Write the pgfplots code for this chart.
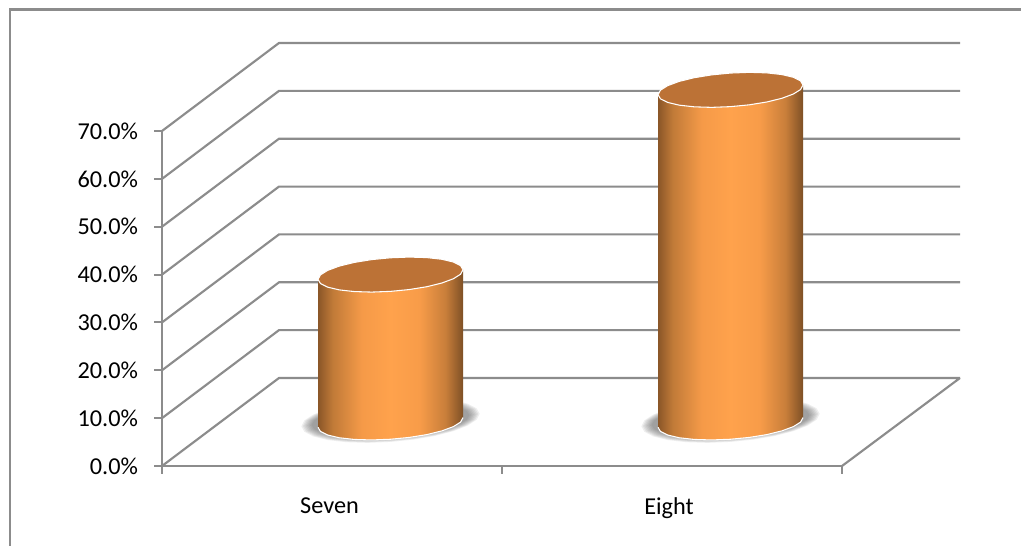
\documentclass[border=0pt]{standalone}
\usepackage{pgfplots}
\pgfplotsset{compat=1.18}
\usepackage{pgfplotstable}
\usepackage{fontspec}
\setmainfont{Carlito}

\definecolor{gridgray}{HTML}{8C8C8C}
\definecolor{cyltopcol}{HTML}{BC7236}
\definecolor{shadowcol}{HTML}{505050}
\definecolor{cyla}{HTML}{8A5628}
\definecolor{cylb}{HTML}{C07A38}
\definecolor{cylc}{HTML}{F59A48}
\definecolor{cyld}{HTML}{FFA24C}
\definecolor{cyle}{HTML}{F89C49}
\definecolor{cylf}{HTML}{C87E3A}
\definecolor{cylg}{HTML}{7E5026}

% the middle 50bp of a 100bp shading is what fills the path
\pgfdeclarehorizontalshading{cylshade}{100bp}{
  color(0bp)=(cyla);
  color(25bp)=(cyla);
  color(30bp)=(cylb);
  color(40bp)=(cylc);
  color(50bp)=(cyld);
  color(60bp)=(cyle);
  color(69bp)=(cylf);
  color(75bp)=(cylg);
  color(100bp)=(cylg)}

% x is in 1021-picture pixels from the y axis (1px = 0.75pt), y in percent
% offsets of the cylinder ellipse round its centre
\pgfplotstableread{
dx dy
72.5 1.01
70.03 0.06
62.79 -0.88
51.27 -1.77
36.25 -2.54
18.76 -3.13
0 -3.51
-18.76 -3.66
-36.25 -3.55
-51.27 -3.20
-62.79 -2.63
-70.03 -1.88
-72.5 -1.01
-70.03 -0.06
-62.79 0.88
-51.27 1.77
-36.25 2.54
-18.76 3.13
0 3.51
18.76 3.66
36.25 3.55
51.27 3.20
62.79 2.63
70.03 1.88
}\ellipsetab

% cylinder side: h=1 at top of the bar, h=0 on the floor
\pgfplotstableread{
dx dy h
-72.5 -1.01 1
-72.5 -1.01 0
-70.03 -1.88 0
-62.79 -2.63 0
-51.27 -3.20 0
-36.25 -3.55 0
-18.76 -3.66 0
0 -3.51 0
18.76 -3.13 0
36.25 -2.54 0
51.27 -1.77 0
62.79 -0.88 0
70.03 0.06 0
72.5 1.01 0
72.5 1.01 1
}\sidetab

% gridlines: side wall then back wall
\pgfplotstableread{
x y
0 0
117 18.39
798 18.39
nan nan
0 10
117 28.39
798 28.39
nan nan
0 20
117 38.39
798 38.39
nan nan
0 30
117 48.39
798 48.39
nan nan
0 40
117 58.39
798 58.39
nan nan
0 50
117 68.39
798 68.39
nan nan
0 60
117 78.39
798 78.39
nan nan
0 70
117 88.39
798 88.39
nan nan
680 0
798 18.39
}\gridtab

\newcommand{\shadowlayer}[3]{
  \addplot[forget plot, draw=none, fill=shadowcol, opacity=0.09]
    table[x expr=\thisrow{dx}*#2+#1, y expr=\thisrow{dy}*#3+9.6] {\ellipsetab} -- cycle;
}
\newcommand{\cylinder}[2]{
  \shadowlayer{#1}{1.23}{1.30}
  \shadowlayer{#1}{1.21}{1.26}
  \shadowlayer{#1}{1.19}{1.22}
  \shadowlayer{#1}{1.17}{1.18}
  \shadowlayer{#1}{1.15}{1.14}
  \shadowlayer{#1}{1.13}{1.10}
  \shadowlayer{#1}{1.11}{1.06}
  \shadowlayer{#1}{1.09}{1.02}
  \addplot[forget plot, draw=none, shade, shading=cylshade]
    table[x expr=\thisrow{dx}+#1, y expr=9.1+\thisrow{h}*#2+\thisrow{dy}] {\sidetab} -- cycle;
  % white rim along the foot of the cylinder
  \addplot[forget plot, white, line width=0.8pt, mark=none]
    table[x expr=\thisrow{dx}+#1, y expr=9.1+\thisrow{h}*#2+\thisrow{dy}, skip coords between index={14}{15}, skip coords between index={0}{1}] {\sidetab};
  \addplot[forget plot, draw=white, line width=0.8pt, fill=cyltopcol]
    table[x expr=\thisrow{dx}+#1, y expr=9.1+#2+\thisrow{dy}] {\ellipsetab} -- cycle;
}

\begin{document}
\begin{tikzpicture}
\path[use as bounding box] (0,0) rectangle (765.75pt,409.5pt);
\fill[white] (0,0) rectangle (765.75pt,409.5pt);
\draw[gridgray, line width=1.8pt] (7.5pt,0) -- (7.5pt,402.4pt) -- (765.75pt,402.4pt);
\begin{axis}[
  at={(121.5pt,60pt)}, anchor=south west,
  scale only axis, width=510pt, height=251.25pt,
  xmin=0, xmax=680, ymin=0, ymax=70,
  clip=false,
  axis lines*=left,
  axis line style={gridgray, line width=1.6pt, -},
  tick style={gridgray, line width=1.5pt},
  tick align=outside,
  major tick length=6pt,
  xtick={0,340,680}, xticklabels={,,},
  extra x ticks={167.5,507},
  extra x tick labels={Seven,Eight},
  extra x tick style={major tick length=0pt,
    tick label style={yshift=-20pt}},
  ytick={0,10,20,30,40,50,60,70},
  yticklabels={0.0\%,10.0\%,20.0\%,30.0\%,40.0\%,50.0\%,60.0\%,70.0\%},
  yticklabel style={xshift=-8.5pt},
  ticklabel style={font=\fontsize{18.2}{20}\selectfont},
  unbounded coords=jump,
]
\addplot[forget plot, gridgray, line width=1.6pt, mark=none] table[x=x, y=y] {\gridtab};
\cylinder{228.5}{30.9}
\cylinder{568.5}{69.5}
\end{axis}
\end{tikzpicture}
\end{document}
